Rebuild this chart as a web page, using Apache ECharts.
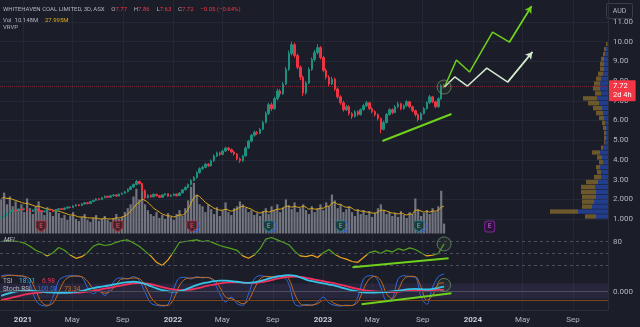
<!DOCTYPE html>
<html>
<head>
<meta charset="utf-8">
<script src="https://cdn.jsdelivr.net/npm/echarts@6/dist/echarts.min.js"></script>
<style>
  html, body { margin: 0; padding: 0; background: #1b1e29; }
  #chart { width: 640px; height: 327px; }
</style>
</head>
<body>
<div id="chart"></div>
<script>
// ---- Whitehaven Coal (ASX: WHC) — weekly candles, volume, VRVP, MFI, TSI + Stoch RSI ----

const firstWeek = '2020-11-09';

// one row per week: [open, close, low, high]
const ohlc = [
  [1.05,1.10,1.03,1.13],[1.10,1.18,1.08,1.21],[1.18,1.30,1.16,1.33],[1.30,1.38,1.27,1.42],[1.38,1.45,1.35,1.50],
  [1.45,1.40,1.37,1.49],[1.40,1.50,1.38,1.54],[1.50,1.46,1.43,1.55],[1.46,1.52,1.44,1.57],[1.52,1.42,1.40,1.54],
  [1.42,1.38,1.34,1.45],[1.38,1.45,1.36,1.48],[1.45,1.50,1.43,1.54],[1.50,1.42,1.40,1.52],[1.42,1.36,1.33,1.44],
  [1.36,1.40,1.34,1.43],[1.40,1.48,1.38,1.51],[1.48,1.44,1.41,1.50],[1.44,1.38,1.35,1.46],[1.38,1.46,1.36,1.49],
  [1.46,1.52,1.44,1.55],[1.52,1.48,1.45,1.55],[1.48,1.55,1.46,1.58],[1.55,1.60,1.52,1.63],[1.60,1.58,1.54,1.64],
  [1.58,1.66,1.56,1.70],[1.66,1.72,1.63,1.76],[1.72,1.68,1.64,1.75],[1.68,1.76,1.66,1.80],[1.76,1.82,1.73,1.86],
  [1.82,1.78,1.74,1.85],[1.78,1.88,1.76,1.92],[1.88,1.94,1.85,1.98],[1.94,2.02,1.92,2.06],[2.02,1.98,1.94,2.05],
  [1.98,2.08,1.96,2.12],[2.08,2.15,2.05,2.19],[2.15,2.10,2.06,2.18],[2.10,2.18,2.08,2.22],[2.18,2.22,2.14,2.26],
  [2.22,2.16,2.12,2.25],[2.16,2.26,2.14,2.30],[2.26,2.30,2.22,2.35],[2.30,2.38,2.27,2.43],[2.38,2.50,2.35,2.55],
  [2.50,2.62,2.47,2.68],[2.62,2.75,2.58,2.80],[2.75,2.90,2.70,2.98],[2.90,2.80,2.74,2.95],[2.80,2.45,2.40,2.84],
  [2.45,2.08,2.00,2.50],[2.08,2.20,2.04,2.25],[2.20,2.12,2.08,2.24],[2.12,2.25,2.10,2.29],[2.25,2.18,2.14,2.28],
  [2.18,2.10,2.06,2.21],[2.10,2.22,2.08,2.26],[2.22,2.28,2.18,2.32],[2.28,2.15,2.12,2.30],[2.15,2.20,2.11,2.24],
  [2.20,2.26,2.16,2.30],[2.26,2.18,2.14,2.29],[2.18,2.32,2.16,2.36],[2.32,2.48,2.30,2.52],[2.48,2.60,2.44,2.66],
  [2.60,2.75,2.56,2.80],[2.75,2.95,2.70,3.02],[2.95,3.10,2.90,3.18],[3.10,3.35,3.05,3.42],[3.35,3.55,3.30,3.62],
  [3.55,3.62,3.48,3.70],[3.62,3.78,3.58,3.85],[3.78,3.70,3.64,3.84],[3.70,3.95,3.66,4.02],[3.95,4.20,3.90,4.28],
  [4.20,4.35,4.14,4.42],[4.35,4.28,4.20,4.42],[4.28,4.45,4.24,4.52],[4.45,4.60,4.40,4.68],[4.60,4.52,4.45,4.66],
  [4.52,4.40,4.34,4.58],[4.40,4.30,4.22,4.46],[4.30,4.05,3.98,4.34],[4.05,3.95,3.85,4.12],[3.95,4.20,3.90,4.26],
  [4.20,4.60,4.16,4.68],[4.60,4.95,4.55,5.02],[4.95,5.25,4.90,5.32],[5.25,5.40,5.18,5.48],[5.40,5.35,5.26,5.46],
  [5.35,5.55,5.30,5.62],[5.55,5.90,5.50,5.98],[5.90,6.35,5.85,6.45],[6.35,6.80,6.28,6.90],[6.80,6.60,6.48,6.92],
  [6.60,7.10,6.55,7.20],[7.10,7.50,7.02,7.62],[7.50,7.35,7.20,7.60],[7.35,7.85,7.30,7.95],[7.85,8.60,7.80,8.72],
  [8.60,9.40,8.52,9.55],[9.40,9.85,9.30,10.00],[9.85,9.30,9.20,9.95],[9.30,8.70,8.60,9.40],[8.70,8.20,8.05,8.80],
  [8.20,7.40,7.25,8.28],[7.40,7.90,7.32,8.00],[7.90,8.60,7.85,8.70],[8.60,9.10,8.52,9.20],[9.10,9.45,9.00,9.58],
  [9.45,9.70,9.35,9.88],[9.70,9.20,9.10,9.78],[9.20,8.55,8.45,9.28],[8.55,8.20,8.08,8.65],[8.20,7.85,7.74,8.30],
  [7.85,8.10,7.80,8.22],[8.10,7.60,7.50,8.18],[7.60,7.20,7.10,7.68],[7.20,6.90,6.80,7.28],[6.90,6.55,6.45,7.00],
  [6.55,6.70,6.48,6.80],[6.70,6.35,6.25,6.78],[6.35,6.20,6.08,6.42],[6.20,6.45,6.15,6.52],[6.45,6.30,6.22,6.52],
  [6.30,6.55,6.25,6.62],[6.55,6.75,6.50,6.84],[6.75,6.90,6.68,7.00],[6.90,6.60,6.52,6.95],[6.60,6.45,6.36,6.68],
  [6.45,6.30,6.20,6.52],[6.30,6.10,6.00,6.36],[6.10,5.55,5.35,6.15],[5.55,5.90,5.50,5.98],[5.90,6.30,5.85,6.38],
  [6.30,6.55,6.25,6.62],[6.55,6.40,6.32,6.62],[6.40,6.70,6.36,6.78],[6.70,6.85,6.62,6.95],[6.85,6.60,6.52,6.90],
  [6.60,6.75,6.55,6.82],[6.75,6.95,6.70,7.04],[6.95,6.70,6.62,7.00],[6.70,6.50,6.42,6.75],[6.50,6.30,6.20,6.55],
  [6.30,6.05,5.95,6.36],[6.05,6.35,6.00,6.42],[6.35,6.60,6.30,6.68],[6.60,6.90,6.55,6.98],[6.90,7.20,6.85,7.30],
  [7.20,6.95,6.88,7.25],[6.95,6.70,6.62,7.00],[6.70,7.10,6.65,7.18],[7.10,7.77,7.05,7.84],[7.77,7.72,7.63,7.86]
];

// weekly volume (millions) and its moving average
const volume = [
  35,42,30,38,28,33,25,
  30,22,36,26,20,28,33,24,19,27,22,18,25,21,
  16,19,14,18,22,15,13,17,20,14,12,16,19,13,15,18,14,12,16,20,15,17,22,26,
  30,38,46,35,44,30,24,20,
  18,22,16,19,15,21,17,14,20,24,18,26,
  34,48,52,40,30,
  28,22,30,25,20,27,18,24,32,22,19,26,28,
  33,30,26,22,24,19,21,18,
  23,26,20,28,24,30,22,27,35,29,25,32,22,26,
  30,24,20,28,22,26,30,24,
  32,28,40,34,26,30,22,25,28,
  22,18,25,20,24,19,23,17,21,26,30,24,20,22,
  18,21,17,23,19,16,22,20,36,25,18,21,24,20,26,
  22,28,44,10.148
];
const volumeMA = [
  36,37,36,36,35,34,33,
  32,31,31,30,29,28,28,27,26,25,25,24,23,23,
  22,21,20,19,19,18,17,17,17,16,16,16,16,15,15,16,15,15,15,16,16,17,18,20,
  23,26,30,32,35,34,32,29,
  26,24,22,20,19,18,18,17,18,19,19,21,
  25,31,37,39,38,
  35,32,30,28,26,25,24,24,25,24,23,24,25,
  27,28,27,26,25,23,22,21,
  22,23,22,23,24,25,25,26,28,28,27,28,27,27,
  28,27,25,26,25,25,26,26,
  28,28,31,32,30,30,28,27,27,
  26,24,24,23,23,22,22,21,21,22,24,24,23,22,
  21,21,20,21,20,19,20,20,24,24,23,22,23,22,23,
  23,24,27,27.995
];

// oscillators, one value every second week
const mfi = [
  80,82,81,80,76,68,58,52,44,52, 65,58,46,38,42,52,68,74,70,72,
  78,82,84,76,68,56,44,28,20,34, 55,78,80,82,84,80,82,76,70,66,
  62,58,44,38,46,62,86,90,84,78, 72,56,44,42,46,40,52,60,48,40,
  36,30,28,40,52,56,50,58,54,62, 58,64,60,52,44,46,50,74
];
const tsi = [
  -15,-8,-2,2,4,4,2,0,-2,-3, -4,-4,-3,-1,3,8,13,17,20,24,
  28,32,35,36,34,28,20,12,6,2, 0,2,8,16,24,30,34,38,40,40,
  38,36,33,32,34,38,44,50,55,58, 60,58,52,44,38,34,30,26,22,16,
  10,5,1,-2,-3,-3,-2,-1,1,4, 7,9,10,9,8,10,14,18.11
];
const tsiSignal = [
  -30,-26,-21,-16,-11,-7,-4,-2,-1,-1, -2,-2,-3,-3,-2,0,3,7,11,15,
  19,23,27,30,31,30,27,22,17,12, 8,6,6,8,12,17,22,26,30,33,
  34,34,33,32,32,34,37,42,47,51, 54,55,54,50,46,42,38,34,30,25,
  20,15,10,6,3,1,0,-1,-1,0, 2,3,5,6,6,6,6.5,6.98
];
const stochK = [
  95,97,96,94,92,70,20,5,3,30, 80,92,95,94,90,60,40,50,35,60,
  85,88,85,92,80,45,12,5,3,8, 55,88,90,85,92,88,90,75,40,15,
  30,10,5,40,85,95,92,90,95,92, 70,10,3,8,5,15,30,12,5,3,
  6,4,30,85,95,92,60,20,25,85, 95,92,90,30,8,60,92,100
];
const stochD = [
  90,95,96,95,93,85,50,15,5,12, 45,80,92,94,92,78,55,48,42,48,
  70,85,86,88,86,65,30,10,5,5, 25,65,85,88,89,90,89,82,60,30,
  25,18,10,20,55,85,93,92,92,93, 85,40,10,5,6,10,20,20,10,5,
  4,5,15,55,85,93,80,40,25,50, 85,93,92,60,20,35,70,73.34
];

// visible-range volume profile, 0.25 price bins from 1.00 to 10.00
const vpBins = [];
for (let p = 1.125; p < 10; p += 0.25) vpBins.push(p.toFixed(3));
const vpUp   = [12,30,16,14,12,12,13,10,7,7, 8,5,6,8,5,3,2,2,2,3, 4,5,6,9,11,7,8,8,7,5, 4,4,4,3,2,1];
const vpDown = [11,28,10,12,14,15,14,12,7,4, 4,4,5,8,2,1,2,2,3,3, 5,7,9,11,14,6,7,6,5,5, 4,4,3,2,2,1];

const priceTicks = [1,2,3,4,5,6,7,8,9,10,11];
const timeTicks = ['2021-01-01','2021-05-01','2021-09-01','2022-01-01','2022-05-01','2022-09-01',
                   '2023-01-01','2023-05-01','2023-09-01','2024-01-01','2024-05-01','2024-09-01'];

// half-year results: reported / upcoming
const earnings = [
  ['2021-02-14','miss'],['2021-08-20','miss'],['2022-02-16','miss'],
  ['2022-08-22','beat'],['2023-02-13','beat'],['2023-08-22','beat'],['2024-02-11','next']
];
const dividendRings = ['2022-02-16','2022-08-22','2023-02-13','2023-08-22'];

// drawn annotations (date, value)
const priceTrend = [['2023-05-26',4.96],['2023-11-10',6.33]];
const bullPath   = [['2023-10-24',7.70],['2023-11-22',9.07],['2023-12-24',8.46],['2024-02-18',10.49],['2024-03-30',9.98],['2024-05-23',11.81]];
const basePath   = [['2023-10-24',7.70],['2023-11-18',8.21],['2023-12-19',7.75],['2024-02-04',8.66],['2024-03-26',7.95],['2024-05-25',9.48]];
const mfiTrend   = [['2023-03-14',15.5],['2023-11-03',38]];
const stochTrend = [['2023-04-05',8.2],['2023-11-10',41.5]];
const ringPrice = ['2023-10-23',7.70];
const ringMfi   = ['2023-10-23',74];
const ringStoch = ['2023-10-23',67];

// ---------------------------------------------------------------
const DAY = 86400000;
const T = s => Date.parse(s);
const t0 = T(firstWeek);
const weekT = i => t0 + i * 7 * DAY;
const X_MIN = T('2020-11-06'), X_MAX = T('2024-11-25');
const RIGHT = 32;
const BG = '#1b1e29', GRIDC = '#242836', AXISC = '#2a2e39', TXT = '#b2b5be';
const FONT = 'Roboto, "Noto Sans", sans-serif';
const MONTHS = ['Jan','Feb','Mar','Apr','May','Jun','Jul','Aug','Sep','Oct','Nov','Dec'];
const MFI_SPLIT = 48;

const candleData = ohlc.map((r, i) => [weekT(i), r[0], r[1], r[2], r[3]]);
const volData = volume.map((v, i) => [weekT(i), v]);
const volMAData = volumeMA.map((v, i) => [weekT(i), v]);
const bi = arr => arr.map((v, j) => [weekT(2 * j), v]);
const pts = arr => arr.map(p => [T(p[0]), p[1]]);

const last = ohlc[ohlc.length - 1], prev = ohlc[ohlc.length - 2];
const chg = last[1] - prev[1];
const minus = s => s.replace('-', '\u2212');
const chgTxt = minus(chg.toFixed(2)) + ' (' + minus((chg / prev[1] * 100).toFixed(2)) + '%)';

// MFI: green above the split level, amber below (hard-stop vertical gradient over the line's own extent)
const mfiMax = Math.max(...mfi), mfiMin = Math.min(...mfi);
const mfiStop = (mfiMax - MFI_SPLIT) / (mfiMax - mfiMin);
const mfiColor = new echarts.graphic.LinearGradient(0, 0, 0, 1, [
  { offset: 0, color: '#53a31c' }, { offset: mfiStop, color: '#53a31c' },
  { offset: mfiStop, color: '#f0a21d' }, { offset: 1, color: '#f0a21d' }
]);

// dates are plotted on a numeric axis (epoch ms) so tick positions can be pinned to month starts
const timeAxis = (grid, showLabel) => ({
  type: 'value', gridIndex: grid, min: X_MIN, max: X_MAX,
  axisLine: { show: showLabel, onZero: false, lineStyle: { color: AXISC } },
  axisTick: { show: false, customValues: timeTicks.map(T) },
  splitLine: { show: true, lineStyle: { color: GRIDC, width: 1 } },
  axisLabel: {
    show: showLabel, customValues: timeTicks.map(T), margin: 6,
    color: TXT, fontSize: 8, fontFamily: FONT,
    formatter: v => {
      const d = new Date(v), m = d.getUTCMonth();
      return m === 0 ? '{y|' + d.getUTCFullYear() + '}' : '{m|' + MONTHS[m] + '}';
    },
    rich: { y: { fontWeight: 'bold', fontSize: 8, color: '#c8cbd3', fontFamily: FONT }, m: { fontSize: 8, color: TXT, fontFamily: FONT } }
  }
});

const earnStyle = {
  miss: { fill: '#3a1a22', border: '#b3303b', text: '#e5414f' },
  beat: { fill: '#15312f', border: '#26857b', text: '#3fb3a5' },
  next: { fill: '#2a1838', border: '#9c27b0', text: '#c04fd6' }
};
const SHIELD = 'path://M0,0 L10,0 L10,7 L5,11 L0,7 Z';
const ringStyle = { color: 'rgba(90,130,80,0.12)', borderColor: '#6f8f64', borderWidth: 1 };

// a projected path: polyline plus an arrowhead on its final leg
const projection = (path, color) => {
  const p = pts(path);
  return {
    type: 'line', xAxisIndex: 0, yAxisIndex: 0, data: p, symbol: 'none', z: 7,
    lineStyle: { color, width: 1.5 },
    markLine: { silent: true, symbol: ['none', 'arrow'], symbolSize: [6, 7], label: { show: false },
                lineStyle: { color, width: 1.5, type: 'solid' },
                data: [[{ coord: p[p.length - 2] }, { coord: p[p.length - 1] }]] }
  };
};

const option = {
  backgroundColor: BG,
  animation: false,
  textStyle: { fontFamily: FONT },
  grid: [
    { left: 0, right: RIGHT, top: 0, height: 233.5 },        // price + volume
    { left: 400, right: RIGHT, top: 41.74, height: 177.2 },  // volume profile
    { left: 0, right: RIGHT, top: 233.5, height: 38 },       // MFI
    { left: 0, right: RIGHT, top: 271.5, height: 38.5 }      // TSI + Stoch RSI
  ],
  xAxis: [
    timeAxis(0, false),
    { type: 'value', gridIndex: 1, inverse: true, min: 0, max: 208, show: false },
    timeAxis(2, false),
    timeAxis(3, true)
  ],
  yAxis: [
    { type: 'value', gridIndex: 0, position: 'right', min: 0.26, max: 12.12,
      axisLine: { show: true, lineStyle: { color: AXISC } },
      axisTick: { show: false, customValues: priceTicks },
      splitLine: { show: true, lineStyle: { color: GRIDC } },
      axisLabel: { customValues: priceTicks, align: 'left', margin: 5, color: TXT, fontSize: 8, fontFamily: FONT,
                   formatter: v => v <= 2 ? v.toFixed(3) : v.toFixed(2) } },
    { type: 'value', gridIndex: 0, min: 0, max: 240, show: false },
    { type: 'category', gridIndex: 1, data: vpBins, show: false },
    { type: 'value', gridIndex: 2, position: 'right', min: 5, max: 100,
      axisLine: { show: true, lineStyle: { color: AXISC } },
      axisTick: { show: false, customValues: [80] }, splitLine: { show: false },
      axisLabel: { customValues: [80], align: 'left', margin: 5, color: TXT, fontSize: 8, fontFamily: FONT } },
    { type: 'value', gridIndex: 3, min: -9.1, max: 107.6, show: false },
    { type: 'value', gridIndex: 3, position: 'right', min: -66.3, max: 73.2,
      axisLine: { show: true, lineStyle: { color: AXISC } },
      axisTick: { show: false, customValues: [0] }, splitLine: { show: false },
      axisLabel: { customValues: [0], align: 'left', margin: 5, color: TXT, fontSize: 8, fontFamily: FONT,
                   formatter: v => v.toFixed(3) } }
  ],
  series: [
    // volume
    { type: 'bar', xAxisIndex: 0, yAxisIndex: 1, data: volData, barWidth: 2.2, z: 1,
      itemStyle: { color: 'rgba(138,141,150,0.78)' } },
    // volume MA
    { type: 'line', xAxisIndex: 0, yAxisIndex: 1, data: volMAData, symbol: 'none', smooth: 0.3,
      lineStyle: { color: '#e2ab17', width: 1 }, z: 2 },
    // candles
    { type: 'candlestick', xAxisIndex: 0, yAxisIndex: 0, data: candleData, barWidth: 2, z: 3,
      itemStyle: { color: '#1f8f7e', color0: '#ee3342', borderColor: '#1f8f7e', borderColor0: '#ee3342', borderWidth: 1 },
      markLine: {
        silent: true, symbol: 'none',
        data: [{ yAxis: last[1] }],
        lineStyle: { color: 'rgba(242,54,69,0.45)', type: 'dotted', width: 1 },
        label: { show: true, position: 'end', distance: 1, offset: [0, 4], formatter: last[1].toFixed(2) + '\n2d 4h',
                 backgroundColor: '#f23645', color: '#fff', fontSize: 7.5, lineHeight: 9, padding: [2, 4, 1, 4],
                 borderRadius: 1, fontFamily: FONT }
      } },
    // volume profile (up / down)
    { type: 'bar', xAxisIndex: 1, yAxisIndex: 2, stack: 'vp', data: vpUp, barCategoryGap: '12%',
      itemStyle: { color: 'rgba(41,98,255,0.46)' }, z: 4 },
    { type: 'bar', xAxisIndex: 1, yAxisIndex: 2, stack: 'vp', data: vpDown, barCategoryGap: '12%',
      itemStyle: { color: 'rgba(251,192,45,0.36)' }, z: 4 },
    // dividend rings behind the earnings badges
    { type: 'scatter', xAxisIndex: 0, yAxisIndex: 1, z: 5, symbol: 'circle', symbolSize: 11, symbolOffset: [2, 0],
      data: dividendRings.map(d => [T(d), 7.2]),
      itemStyle: { color: 'rgba(0,0,0,0)', borderColor: '#2962ff', borderWidth: 1.2 } },
    // earnings badges
    { type: 'scatter', xAxisIndex: 0, yAxisIndex: 1, z: 6, symbolSize: [10, 11],
      data: earnings.map(e => ({
        value: [T(e[0]), 7.2],
        symbol: e[1] === 'next' ? 'roundRect' : SHIELD,
        itemStyle: { color: earnStyle[e[1]].fill, borderColor: earnStyle[e[1]].border, borderWidth: 1 },
        label: { show: true, position: 'inside', formatter: 'E', color: earnStyle[e[1]].text, fontSize: 6.5, fontWeight: 'bold' }
      })) },
    // MFI
    { type: 'line', xAxisIndex: 2, yAxisIndex: 3, data: bi(mfi), symbol: 'none',
      lineStyle: { width: 1.2, color: mfiColor }, z: 3,
      markLine: { silent: true, symbol: 'none', label: { show: false },
                  lineStyle: { color: '#4b4f5c', type: [3, 3], width: 1 },
                  data: [{ yAxis: 80 }, { yAxis: 50 }, { yAxis: 20 }] } },
    // TSI
    { type: 'line', xAxisIndex: 3, yAxisIndex: 5, data: bi(tsi), symbol: 'none', smooth: 0.4,
      lineStyle: { color: '#35c3e6', width: 1.8 }, z: 4,
      markArea: { silent: true, itemStyle: { color: 'rgba(110,80,170,0.16)' }, data: [[{ yAxis: -25 }, { yAxis: 30 }]] },
      markLine: { silent: true, symbol: 'none', label: { show: false },
                  data: [{ yAxis: 0, lineStyle: { color: '#4a4d5a', type: 'solid', width: 1 } },
                         { yAxis: -30, lineStyle: { color: '#7a4520', type: 'solid', width: 1 } }] } },
    // TSI signal
    { type: 'line', xAxisIndex: 3, yAxisIndex: 5, data: bi(tsiSignal), symbol: 'none', smooth: 0.4,
      lineStyle: { color: '#f5305f', width: 1.8 }, z: 3 },
    // Stoch RSI K / D
    { type: 'line', xAxisIndex: 3, yAxisIndex: 4, data: bi(stochK), symbol: 'none', smooth: 0.35,
      lineStyle: { color: '#2e6be0', width: 1 }, z: 2 },
    { type: 'line', xAxisIndex: 3, yAxisIndex: 4, data: bi(stochD), symbol: 'none', smooth: 0.35,
      lineStyle: { color: '#c96a1c', width: 1 }, z: 2 },
    // trend lines
    { type: 'line', xAxisIndex: 0, yAxisIndex: 0, data: pts(priceTrend), symbol: 'none',
      lineStyle: { color: '#6fd11c', width: 2 }, z: 7 },
    { type: 'line', xAxisIndex: 2, yAxisIndex: 3, data: pts(mfiTrend), symbol: 'none',
      lineStyle: { color: '#6fd11c', width: 2 }, z: 7 },
    { type: 'line', xAxisIndex: 3, yAxisIndex: 4, data: pts(stochTrend), symbol: 'none',
      lineStyle: { color: '#6fd11c', width: 2 }, z: 7 },
    // projected paths
    projection(bullPath, '#6fd11c'),
    projection(basePath, '#d3e8cc'),
    // highlight rings
    { type: 'scatter', xAxisIndex: 0, yAxisIndex: 0, data: [[T(ringPrice[0]), ringPrice[1]]], symbolSize: 14, z: 8, itemStyle: ringStyle },
    { type: 'scatter', xAxisIndex: 2, yAxisIndex: 3, data: [[T(ringMfi[0]), ringMfi[1]]], symbolSize: 14, z: 8, itemStyle: ringStyle },
    { type: 'scatter', xAxisIndex: 3, yAxisIndex: 4, data: [[T(ringStoch[0]), ringStoch[1]]], symbolSize: 13, z: 8, itemStyle: ringStyle }
  ],
  graphic: [
    { type: 'text', left: 3, top: 3, z: 20, style: {
        text: '{g|WHITEHAVEN COAL LIMITED, 3D, ASX}  {g|O}{r|' + last[0].toFixed(2) + '}  {g|H}{r|' + last[3].toFixed(2) +
              '}  {g|L}{r|' + last[2].toFixed(2) + '}  {g|C}{r|' + last[1].toFixed(2) + '}  {r|' + chgTxt + '}',
        rich: { g: { fill: TXT, fontSize: 6, fontFamily: FONT }, r: { fill: '#f23645', fontSize: 6, fontFamily: FONT } } } },
    { type: 'text', left: 3, top: 14, z: 20, style: {
        text: '{g|Vol  ' + volume[volume.length - 1].toFixed(3) + 'M}  {y|' + volumeMA[volumeMA.length - 1].toFixed(3) + 'M}',
        rich: { g: { fill: TXT, fontSize: 6, fontFamily: FONT }, y: { fill: '#e2ab17', fontSize: 6, fontFamily: FONT } } } },
    { type: 'text', left: 3, top: 24, z: 20, style: { text: 'VRVP', fill: TXT, fontSize: 6, fontFamily: FONT } },
    { type: 'text', left: 4, top: 237, z: 20, style: { text: 'MFI', fill: TXT, fontSize: 6.5, fontStyle: 'italic', fontFamily: FONT } },
    { type: 'text', left: 3, top: 275, z: 20, style: {
        text: '{g|TSI}  {c|' + tsi[tsi.length - 1].toFixed(2) + '}  {p|' + tsiSignal[tsiSignal.length - 1].toFixed(2) + '}',
        rich: { g: { fill: TXT, fontSize: 6.5, fontFamily: FONT }, c: { fill: '#35c3e6', fontSize: 6.5, fontFamily: FONT },
                p: { fill: '#f5305f', fontSize: 6.5, fontFamily: FONT } } } },
    { type: 'text', left: 3, top: 283, z: 20, style: {
        text: '{g|Stoch RSI}  {b|' + stochK[stochK.length - 1].toFixed(2) + '}  {o|' + stochD[stochD.length - 1].toFixed(2) + '}',
        rich: { g: { fill: TXT, fontSize: 6.5, fontFamily: FONT }, b: { fill: '#2e6be0', fontSize: 6.5, fontFamily: FONT },
                o: { fill: '#c96a1c', fontSize: 6.5, fontFamily: FONT } } } },
    { type: 'group', right: 7, top: 3, z: 20, children: [
        { type: 'rect', shape: { x: 0, y: 0, width: 26, height: 15, r: 2 }, style: { fill: BG, stroke: '#3a3e4a', lineWidth: 1 } },
        { type: 'text', x: 13, y: 7.5, style: { text: 'AUD', fill: TXT, fontSize: 7, align: 'center', verticalAlign: 'middle', fontFamily: FONT } }
    ] }
  ]
};

const chart = echarts.init(document.getElementById('chart'), null, { renderer: 'canvas' });
chart.setOption(option);
</script>
</body>
</html>
